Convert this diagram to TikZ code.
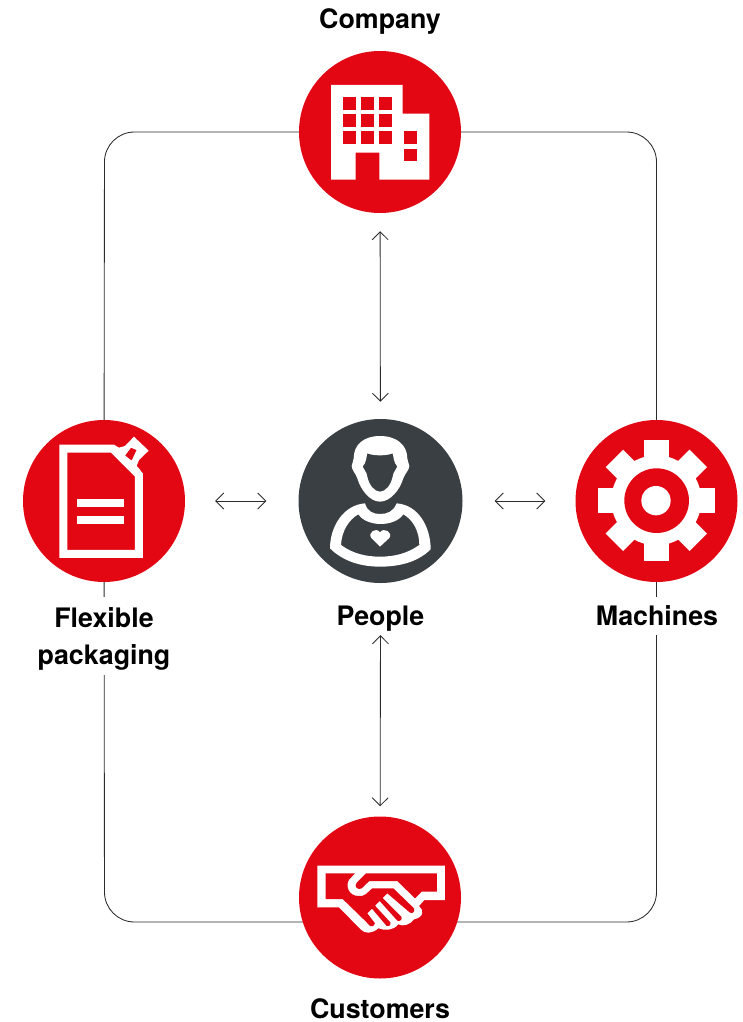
\documentclass[tikz,border=0pt]{standalone}
\usepackage{fontspec}
\setmainfont{TeX Gyre Heros}
\usetikzlibrary{arrows.meta,backgrounds}
\definecolor{brandred}{HTML}{E30613}
\definecolor{slate}{HTML}{3A3F43}
\definecolor{wire}{HTML}{2B2B2B}
\tikzset{
  hub/.style={circle,minimum size=162pt,inner sep=0pt,fill=brandred},
  label/.style={font=\fontsize{26.8}{37}\selectfont\bfseries,fill=white,inner sep=0pt,align=center,text=black},
  gaplabel/.style={label,anchor=base,text height=28.5pt,text depth=9.5pt},
  loopline/.style={draw=wire,line width=0.85pt,rounded corners=30pt},
  flow/.style={draw=wire,line width=0.85pt,{Straight Barb[length=8pt,width=16pt,line width=0.85pt]}-{Straight Barb[length=8pt,width=16pt,line width=0.85pt]}},
  icon/.style={shift={#1},x=0.3333pt,y=-0.3333pt}
}
\begin{document}
\begin{tikzpicture}[x=1pt,y=-1pt]
\useasboundingbox (0,0) rectangle (742,1022);
\node[hub] (company) at (380,132) {};
\node[hub] (flexible) at (104,501) {};
\node[hub,fill=slate,minimum size=164pt] (people) at (380.5,501) {};
\node[hub] (machines) at (656.5,501) {};
\node[hub] (customers) at (380,897.5) {};
\coordinate (tl) at (104.5,132);
\coordinate (tr) at (656.5,132);
\coordinate (bl) at (104.5,922);
\coordinate (br) at (656.5,922);
\node[label,anchor=base] (lcompany) at (380,28.5) {Company};
\node[label,minimum height=78pt] (lflexible) at (104,636) {\rule{0pt}{25.5pt}Flexible\\packaging};
\node[gaplabel] (lpeople) at (380.5,625.5) {People};
\node[gaplabel] (lmachines) at (657,625) {Machines};
\node[label,anchor=base] (lcustomers) at (380,1018.5) {Customers};
\begin{scope}[on background layer]
\draw[loopline] (company.center) -- (tl) -- (flexible.center);
\draw[loopline] (company.center) -- (tr) -- (machines.center);
\draw[loopline] (flexible.center) -- (bl) -- (customers.center |- bl);
\draw[loopline] (machines.center) -- (br) -- (customers.center |- br);
\end{scope}
\draw[flow,shorten <=18pt,shorten >=17pt] (company) -- (people);
\draw[flow,shorten >=10pt] (lpeople) -- (customers);
\draw[flow,shorten <=30pt,shorten >=32pt] (flexible) -- (people);
\draw[flow,shorten <=32pt,shorten >=30pt] (people) -- (machines);
% company icon
\begin{scope}[icon={(290,40)}]
\fill[white] (123,135)--(338,135)--(338,221)--(418,221)--(418,419)--(268,419)--(268,338)--(197,338)--(197,419)--(123,419)--cycle;
\foreach \xa in {158,213,266} \foreach \ya in {170,221,274}
  \fill[brandred] (\xa,\ya) rectangle +(39,39);
\fill[brandred] (342,274) rectangle +(39,39);
\fill[brandred] (342,326) rectangle +(39,38);
\end{scope}
% flexible packaging icon
\begin{scope}[icon={(15,410)}]
\fill[white,even odd rule] (133,104)--(298,104)--(384,190)--(384,444)--(133,444)--cycle
  (157,128)--(288,128)--(360,200)--(360,420)--(157,420)--cycle;
\fill[white,even odd rule] (300,106)--(312,113)--(330,108)--(357,80)--(401,122)--(372,150)--(365,168)--(378,182)--(362,178)--cycle
  (330,137)--(348,113)--(365,120)--(350,152)--cycle;
\fill[white] (187,267) rectangle (326,291);
\fill[white] (187,319) rectangle (326,343);
\end{scope}
% people icon
\begin{scope}[icon={(290,410)}]
\fill[white,even odd rule] (270,78) .. controls (320,78) and (352,105) .. (352,145) .. controls (352,155) and (358,160) .. (358,168)
  .. controls (358,180) and (345,190) .. (340,205) .. controls (330,240) and (300,275) .. (270,275)
  .. controls (240,275) and (212,240) .. (202,205) .. controls (197,190) and (185,180) .. (185,168)
  .. controls (185,160) and (191,155) .. (191,145) .. controls (191,105) and (220,78) .. (270,78) -- cycle
  (232,130) .. controls (250,138) and (290,138) .. (308,130) .. controls (312,145) and (310,155) .. (322,170)
  .. controls (318,180) and (310,185) .. (308,200) .. controls (302,228) and (285,245) .. (270,245)
  .. controls (255,245) and (238,228) .. (232,200) .. controls (230,185) and (222,180) .. (218,170)
  .. controls (230,155) and (228,145) .. (232,130) -- cycle;
\fill[white,even odd rule] (120,415) .. controls (120,350) and (160,285) .. (225,280)
  .. controls (232,305) and (250,312) .. (270,312) .. controls (292,312) and (310,305) .. (320,280)
  .. controls (385,285) and (422,350) .. (422,418)
  .. controls (380,460) and (320,470) .. (270,470) .. controls (215,470) and (160,455) .. (120,415) -- cycle
  (153,405) .. controls (155,365) and (175,330) .. (205,313)
  .. controls (220,335) and (250,342) .. (272,342) .. controls (295,342) and (325,335) .. (340,313)
  .. controls (370,330) and (388,365) .. (388,405)
  .. controls (350,432) and (310,440) .. (270,440) .. controls (230,440) and (190,432) .. (153,405) -- cycle;
\fill[white] (270,410) -- (244,384) .. controls (232,368) and (258,350) .. (270,367) .. controls (282,350) and (310,368) .. (298,384) -- cycle;
\end{scope}
% machines icon
\begin{scope}[icon={(565,410)}]
\fill[white] (274,271) circle[radius=135];
\foreach \ang/\len in {0/181,45/178,90/174,135/178,180/181,225/178,270/175,315/178}
  \fill[white,rotate around={\ang:(274,271)}] (237,271) rectangle (311,271-\len);
\fill[brandred] (275,272) circle[radius=97];
\fill[white] (273,272) circle[radius=44];
\end{scope}
% customers icon
\begin{scope}[icon={(290,810)}]
\fill[white] (82,167)--(465,167)--(465,270)--(403,270)--(387,288)
  .. controls (402,300) and (402,322) .. (372,328) .. controls (360,345) and (340,350) .. (325,343)
  .. controls (310,362) and (285,362) .. (265,355) .. controls (245,372) and (225,372) .. (212,358)
  -- (147,292) -- (82,292) -- cycle;
\fill[brandred] (228,190)--(441,190)--(441,245)--(395,245)--(375,265)--(322,213)--(238,213)--(215,235)
  .. controls (205,242) and (190,230) .. (200,218) -- cycle;
\fill[brandred] (107,190)--(195,190)--(178,208) .. controls (165,225) and (175,258) .. (205,258)
  .. controls (215,258) and (222,258) .. (228,252) -- (247,235)--(310,235)--(372,295)
  .. controls (376,304) and (368,312) .. (360,308) -- (292,250) -- (278,264) -- (334,320)
  .. controls (338,328) and (330,336) .. (322,332) -- (269,273) -- (255,287) -- (301,337)
  .. controls (304,345) and (296,352) .. (290,348) -- (246,296) -- (232,310) -- (255,340)
  .. controls (255,348) and (245,352) .. (240,348) -- (228,335) -- (158,267) -- (107,267) -- cycle;
\end{scope}
\end{tikzpicture}
\end{document}
